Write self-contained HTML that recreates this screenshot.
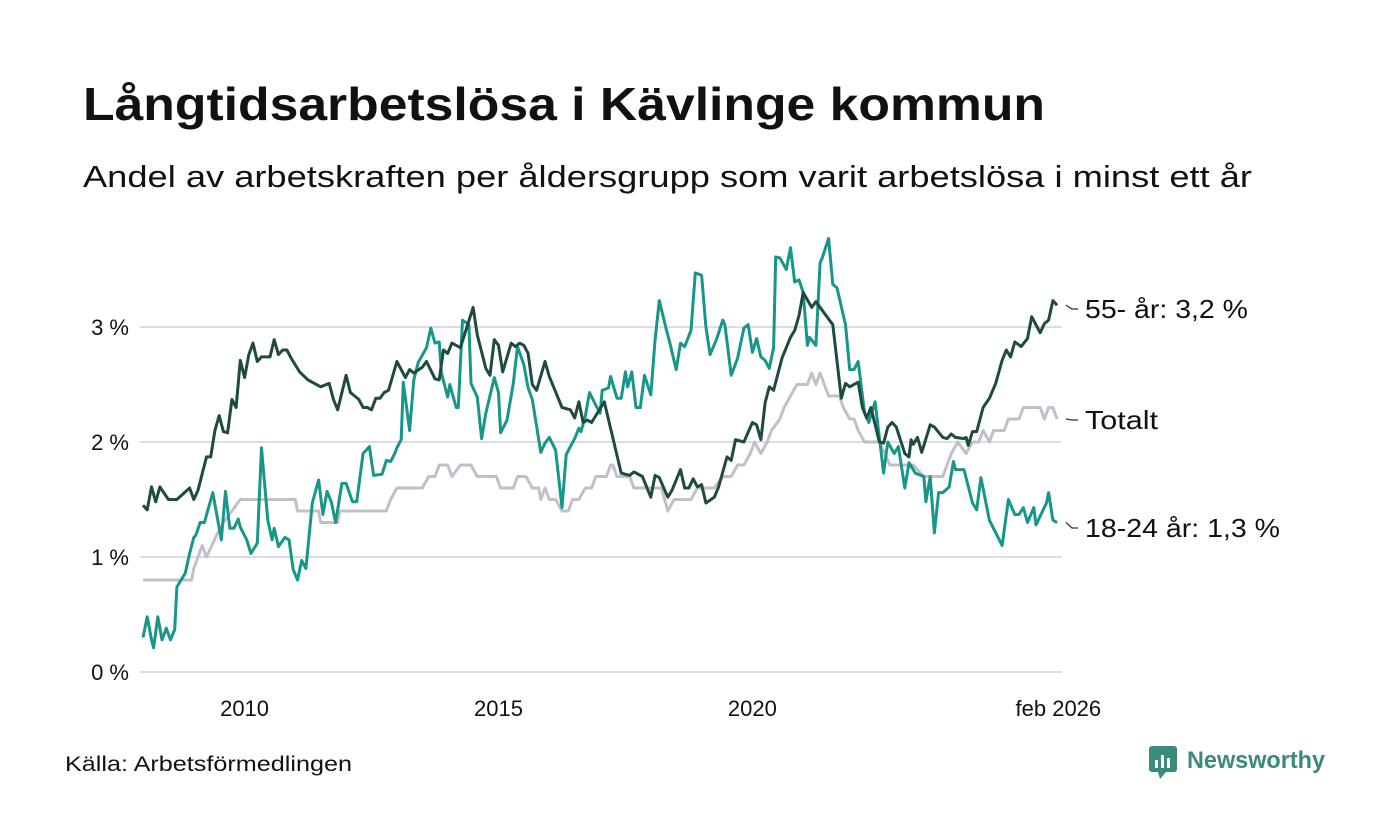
<!DOCTYPE html>
<html><head><meta charset="utf-8"><style>
html,body{margin:0;padding:0;background:#fff;}
svg{display:block;font-family:"Liberation Sans",sans-serif;}
</style></head><body>
<svg id="chart" width="1400" height="840" viewBox="0 0 1400 840" xmlns="http://www.w3.org/2000/svg">
<text x="83" y="120" font-size="46" font-weight="bold" fill="#111" textLength="962" lengthAdjust="spacingAndGlyphs">Långtidsarbetslösa i Kävlinge kommun</text>
<text x="83" y="187" font-size="31" fill="#111" textLength="1169" lengthAdjust="spacingAndGlyphs">Andel av arbetskraften per åldersgrupp som varit arbetslösa i minst ett år</text>
<g id="grid"></g>
<g id="series"></g>
<g id="labels"></g>
<text x="65" y="771" font-size="21" fill="#111" textLength="287" lengthAdjust="spacingAndGlyphs">Källa: Arbetsförmedlingen</text>
<g>
<rect x="1149" y="746" width="28" height="26" rx="3" fill="#3a8a7e"/>
<polygon points="1158,772 1166,772 1160,779" fill="#3a8a7e"/>
<rect x="1155" y="760" width="3" height="8" fill="#fff"/><rect x="1161" y="755" width="3" height="13" fill="#fff"/><rect x="1167" y="758" width="3" height="10" fill="#fff"/>
<text x="1187" y="768" font-size="24" font-weight="bold" fill="#3a8a7e" textLength="138" lengthAdjust="spacingAndGlyphs">Newsworthy</text>
</g>
</svg>
<script>
const NS="http://www.w3.org/2000/svg";
// month index (0 = jan 2008) and values in percent
const oldMonths=[0,1,2,3,4,6,7,8,11,12,13,15,16,17,18,19,20,21,22,23,24,25,26,27,28,30,31,32,33,34,35,37,39,42,44,45,46,48,49,51,52,53,54,55,56,57,58,60,62,63,64,66,67,69,70,71,72,73,75,78,79,81,82,83,84,85,87,88,89,90,91,92,93,95,96,99,101,102,103,104,105,106,109,113,115,116,118,120,121,122,124,125,127,128,129,130,131,132,133,135,136,138,139,140,142,144,145,146,147,148,149,151,153,154,155,156,158,159,163,165,166,167,169,170,171,172,174,175,176,177,178,180,181,181.5,182,183,184,186,187,189,190,191,192,194,194.5,195,196,197,198.5,200,201.5,203,204,205,206,207.5,209,210,212,213,214,215,216];
const oldValues=[1.45,1.41,1.61,1.48,1.61,1.50,1.50,1.50,1.60,1.50,1.58,1.87,1.87,2.10,2.23,2.09,2.08,2.37,2.30,2.71,2.56,2.76,2.86,2.70,2.74,2.74,2.89,2.76,2.80,2.80,2.73,2.61,2.54,2.48,2.51,2.37,2.28,2.58,2.43,2.37,2.30,2.30,2.28,2.38,2.38,2.43,2.45,2.70,2.56,2.63,2.60,2.65,2.70,2.55,2.54,2.80,2.77,2.86,2.82,3.17,2.93,2.64,2.58,2.89,2.84,2.61,2.86,2.83,2.86,2.84,2.77,2.50,2.45,2.70,2.57,2.30,2.28,2.21,2.35,2.17,2.19,2.17,2.35,1.73,1.71,1.74,1.70,1.52,1.71,1.69,1.52,1.58,1.76,1.60,1.60,1.68,1.61,1.63,1.47,1.52,1.61,1.87,1.84,2.02,2.00,2.17,2.15,2.02,2.34,2.48,2.45,2.73,2.91,2.97,3.10,3.30,3.17,3.22,3.02,2.38,2.51,2.48,2.52,2.30,2.21,2.30,2.00,1.99,2.13,2.17,2.13,1.90,1.87,2.02,1.98,2.04,1.91,2.15,2.13,2.04,2.03,2.07,2.04,2.03,2.04,1.97,2.09,2.09,2.30,2.38,2.51,2.71,2.80,2.74,2.87,2.83,2.90,3.09,2.95,3.03,3.06,3.23,3.19];
const totMonths=[0,11.5,12,14,15,17.5,19,21,23,36,36.5,41.5,42,46,46.5,57.5,58.5,60,66,67.5,69,70,72,73,75,77.5,79,83.5,84.5,87.5,88.5,90.5,92,93.5,94,95,96,97.5,99,100.5,101.5,103,104.5,106,107,109.5,110.5,111,112,115,116,122.5,124,125.5,129.5,131,135,137,139,140.5,142,143.5,144.5,146,147.5,148.5,150.5,151.5,153,154.5,157,158,159,160,162,164.5,165.5,167,168,169,170.5,174,176.5,182,184.5,189,191,192.5,194.5,196,197.5,198.5,200,201,203.5,204.5,207,208,212,213,214,215,216];
const totValues=[0.8,0.8,0.9,1.1,1.0,1.2,1.3,1.4,1.5,1.5,1.4,1.4,1.3,1.3,1.4,1.4,1.5,1.6,1.6,1.7,1.7,1.8,1.8,1.7,1.8,1.8,1.7,1.7,1.6,1.6,1.7,1.7,1.6,1.6,1.5,1.6,1.5,1.5,1.4,1.4,1.5,1.5,1.6,1.6,1.7,1.7,1.8,1.8,1.7,1.7,1.6,1.6,1.4,1.5,1.5,1.6,1.6,1.7,1.7,1.8,1.8,1.9,2.0,1.9,2.0,2.1,2.2,2.3,2.4,2.5,2.5,2.6,2.5,2.6,2.4,2.4,2.3,2.2,2.2,2.1,2.0,2.0,1.8,1.8,1.7,1.7,1.9,2.0,1.9,2.0,2.0,2.1,2.0,2.1,2.1,2.2,2.2,2.3,2.3,2.2,2.3,2.3,2.2];
const youngMonths=[0,1,2,2.5,3.5,4.5,5.5,6.5,7.5,8,10,11,12,12.5,13.5,14.5,16.5,18.5,19.5,20.5,21.5,22.5,23,24.5,25.5,27,28,29.5,30.5,31,32,33.5,34.5,35.5,36.5,37.5,38.5,40,41.5,42.5,43.5,44.5,45.5,47,48,49.5,50.5,52,53.5,54.5,56.5,57.5,58.5,59.5,60,61,61.5,63,64,65,67,68,69,70,70.5,72,72.5,74,74.5,75.5,77,77.5,79,80,81,83,84,84.5,86,87.5,88.5,90,91,92,94,95,96,97.5,99,100,101,102,103,103.5,104.5,105.5,107,108,108.5,110,110.5,112,113,114,114.5,115.5,116.5,117.5,118.5,120,121,122,123.5,124.5,126,127,128,129.5,130.5,132,133,134,135.5,137,137.5,139,140.5,142,143,144,145,146,147,148,149,149.5,150.5,152,153,154,155,156,157,157.5,159,160,160.5,162,163,164,166,167,168,169,170.5,171.5,173,175,176,177.5,178.5,180,181,182.5,184.5,185,186,187,188,189,190.5,191.5,192,194,196,197,198,200,203,204.5,206,207,208,209,210.5,211,213.5,214,215,216];
const youngValues=[0.30,0.48,0.28,0.21,0.48,0.28,0.38,0.28,0.37,0.74,0.86,1.03,1.17,1.19,1.30,1.30,1.56,1.15,1.57,1.25,1.25,1.33,1.26,1.15,1.03,1.12,1.95,1.32,1.15,1.25,1.09,1.17,1.15,0.89,0.80,0.97,0.90,1.47,1.67,1.37,1.57,1.48,1.30,1.64,1.64,1.48,1.48,1.90,1.96,1.71,1.72,1.84,1.83,1.90,1.95,2.02,2.52,2.10,2.54,2.69,2.82,2.99,2.86,2.87,2.60,2.39,2.50,2.30,2.30,3.06,3.02,2.51,2.39,2.03,2.25,2.56,2.43,2.08,2.19,2.51,2.83,2.67,2.47,2.37,1.91,1.99,2.04,1.93,1.43,1.89,1.96,2.03,2.12,2.09,2.22,2.43,2.32,2.25,2.45,2.47,2.57,2.38,2.38,2.61,2.48,2.61,2.30,2.30,2.58,2.41,2.89,3.23,3.00,2.86,2.63,2.86,2.83,2.97,3.47,3.45,3.00,2.76,2.89,3.06,3.02,2.58,2.73,2.99,3.02,2.78,2.90,2.74,2.71,2.64,2.82,3.61,3.60,3.50,3.69,3.39,3.41,3.30,2.84,2.91,2.84,3.56,3.60,3.77,3.37,3.34,3.02,2.63,2.63,2.70,2.25,2.17,2.35,1.73,2.00,1.90,1.96,1.60,1.82,1.73,1.70,1.48,1.70,1.21,1.56,1.56,1.61,1.83,1.76,1.76,1.47,1.41,1.69,1.32,1.10,1.50,1.37,1.37,1.43,1.30,1.43,1.28,1.47,1.56,1.32,1.30];
const yTicks=[0,1,2,3];
const yTickLabels=["0 %","1 %","2 %","3 %"];
const xTickMonths=[24,84,144,217];
const xTickLabels=["2010","2015","2020","feb 2026"];
const seriesNames=["55- år: 3,2 %","Totalt","18-24 år: 1,3 %"];

const xS=m=>143+m*4.232;
const yS=v=>672-v*115;
const grid=document.getElementById('grid'),ser=document.getElementById('series'),lab=document.getElementById('labels');
function mk(tag,attrs,parent){const e=document.createElementNS(NS,tag);for(const k in attrs)e.setAttribute(k,attrs[k]);parent.appendChild(e);return e;}
yTicks.forEach((t,i)=>{
  const l=mk('line',{x1:140,x2:1062,y1:yS(t),y2:yS(t),stroke:'#dddde0','stroke-width':2},grid);
  
  
  const tx=mk('text',{x:129,y:yS(t)+8,'text-anchor':'end','font-size':22,fill:'#111'},grid);
  tx.textContent=yTickLabels[i];
  
  
});
xTickMonths.forEach((m,i)=>{
  const tx=mk('text',{x:xS(m)+(i===3?-3:0),y:716,'text-anchor':'middle','font-size':22,fill:'#111'},grid);
  tx.textContent=xTickLabels[i];
  
  
});
function line(ms,vs,color,name){
  const d=ms.map((m,i)=>(i?'L':'M')+xS(m).toFixed(1)+','+yS(vs[i]).toFixed(1)).join('');
  const p=mk('path',{d:d,fill:'none',stroke:color,'stroke-width':3,'stroke-linejoin':'round'},ser);
  
  
}
line(totMonths,totValues,'#c2bfcb','line-totalt');
line(youngMonths,youngValues,'#17968a','line-18-24');
line(oldMonths,oldValues,'#1f4a40','line-55-plus');
const ends=[oldValues[oldValues.length-1],totValues[totValues.length-1],youngValues[youngValues.length-1]];
const labelY=[309,420,528];
const labelW=[163,73,195];
ends.forEach((v,i)=>{
  const y=yS(v);
  const ly=labelY[i];
  const c=mk('path',{d:`M1066,${y.toFixed(1)}L1072,${ly}L1078,${ly}`,fill:'none',stroke:'#333','stroke-width':1.3},lab);
  
  
  const tx=mk('text',{x:1085,y:ly+9,'font-size':26,fill:'#111',textLength:labelW[i],lengthAdjust:'spacingAndGlyphs'},lab);
  tx.textContent=seriesNames[i];
  
  
});
</script>
</body></html>
